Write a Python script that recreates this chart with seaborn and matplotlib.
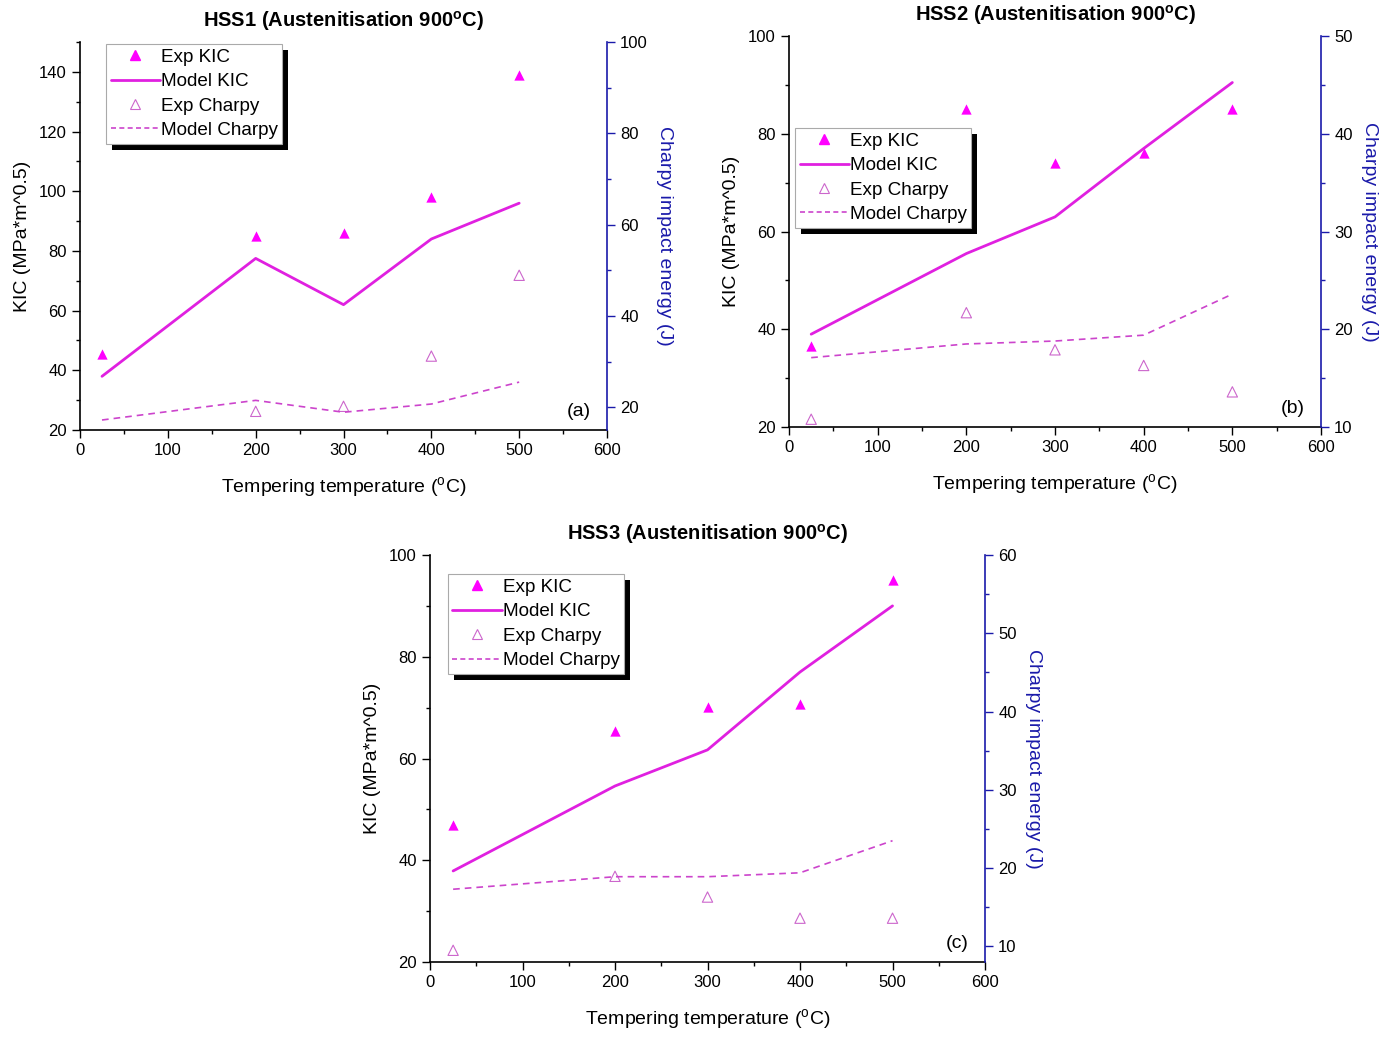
import matplotlib
matplotlib.use("Agg")
import matplotlib.pyplot as plt
import seaborn as sns
import pandas as pd
from matplotlib.lines import Line2D
from matplotlib.patches import Rectangle
from matplotlib.transforms import IdentityTransform
from matplotlib.ticker import MultipleLocator

sns.set_theme(style="white")
plt.rcParams['font.family'] = ['Liberation Sans', 'DejaVu Sans']
plt.rcParams.update({"text.color": "black", "axes.labelcolor": "black",
                     "xtick.color": "black", "ytick.color": "black"})

temps = [25, 200, 300, 400, 500]

# HSS1
hss1_exp_kic = [45.5, 85, 86, 98, 139]
hss1_model_kic = [38, 77.5, 62, 84, 96]
hss1_exp_charpy_t = [200, 300, 400, 500]
hss1_exp_charpy = [19.1, 20.2, 31.2, 48.9]
hss1_model_charpy = [17.2, 21.5, 18.9, 20.7, 25.5]

# HSS2
hss2_exp_kic = [36.5, 85, 74, 76, 85]
hss2_model_kic = [39, 55.5, 63, 77, 90.5]
hss2_exp_charpy_t = [25, 200, 300, 400, 500]
hss2_exp_charpy = [10.8, 21.7, 17.9, 16.3, 13.6]
hss2_model_charpy = [17.1, 18.5, 18.8, 19.4, 23.6]

# HSS3
hss3_exp_kic = [46.9, 65.4, 70.1, 70.7, 95.1]
hss3_model_kic = [37.9, 54.6, 61.7, 77, 90]
hss3_exp_charpy_t = [25, 200, 300, 400, 500]
hss3_exp_charpy = [9.5, 18.95, 16.3, 13.6, 13.6]
hss3_model_charpy = [17.3, 18.9, 18.9, 19.4, 23.5]

titles = ["HSS1 (Austenitisation 900$^\\mathregular{o}$C)",
          "HSS2 (Austenitisation 900$^\\mathregular{o}$C)",
          "HSS3 (Austenitisation 900$^\\mathregular{o}$C)"]
tags = ["(a)", "(b)", "(c)"]

C_EXP = "#ff00ff"
C_MOD = "#e020e0"
C_EXPC = "#cc66cc"
C_MODC = "#cc44cc"
C_AX2 = "#1a1aaa"

fig = plt.figure(figsize=(13.97, 10.37), dpi=100)

positions = [
    [0.0573, 0.5853, 0.3772, 0.3742],
    [0.5648, 0.5882, 0.3808, 0.3770],
    [0.3078, 0.0723, 0.3973, 0.3925],
]
ylims_left = [(20, 150), (20, 100), (20, 100)]
ylims_right = [(15, 100), (10, 50), (8, 60)]
left_major = [20, 20, 20]
right_major = [20, 10, 10]
legend_anchor = [(0.049, 0.995), (0.011, 0.765), (0.032, 0.953)]
title_pad = [11, 11, 11]

datasets = [
    (hss1_exp_kic, hss1_model_kic, hss1_exp_charpy_t, hss1_exp_charpy, hss1_model_charpy),
    (hss2_exp_kic, hss2_model_kic, hss2_exp_charpy_t, hss2_exp_charpy, hss2_model_charpy),
    (hss3_exp_kic, hss3_model_kic, hss3_exp_charpy_t, hss3_exp_charpy, hss3_model_charpy),
]

legends = []
for i, (ekic, mkic, ect, ec, mc) in enumerate(datasets):
    ax = fig.add_axes(positions[i])
    ax2 = ax.twinx()
    df_k = pd.DataFrame({"T": temps, "exp": ekic, "model": mkic})
    df_ce = pd.DataFrame({"T": ect, "exp": ec})
    df_cm = pd.DataFrame({"T": temps, "model": mc})

    sns.lineplot(data=df_k, x="T", y="model", ax=ax, color=C_MOD, linewidth=2.0)
    sns.scatterplot(data=df_k, x="T", y="exp", ax=ax, color=C_EXP, marker="^",
                    s=55, edgecolor=C_EXP, linewidth=0)
    sns.lineplot(data=df_cm, x="T", y="model", ax=ax2, color=C_MODC, linewidth=1.2,
                 linestyle=(0, (4, 3)))
    ax2.scatter(df_ce["T"], df_ce["exp"], marker="^", s=55, facecolors="none",
                edgecolors=C_EXPC, linewidths=0.8)

    ax.set_xlim(0, 600)
    ax.set_ylim(*ylims_left[i])
    ax2.set_ylim(*ylims_right[i])
    ax.xaxis.set_major_locator(MultipleLocator(100))
    ax.xaxis.set_minor_locator(MultipleLocator(50))
    ax.yaxis.set_major_locator(MultipleLocator(left_major[i]))
    ax.yaxis.set_minor_locator(MultipleLocator(left_major[i] / 2))
    ax2.yaxis.set_major_locator(MultipleLocator(right_major[i]))
    ax2.yaxis.set_minor_locator(MultipleLocator(right_major[i] / 2))

    for a in (ax, ax2):
        a.spines["top"].set_visible(False)
        a.grid(False)
    ax.spines["right"].set_visible(False)
    ax2.spines["left"].set_visible(False)
    ax2.spines["bottom"].set_visible(False)
    for s in ("left", "bottom"):
        ax.spines[s].set_color("black")
        ax.spines[s].set_linewidth(1.2)
    ax2.spines["right"].set_color(C_AX2)
    ax2.spines["right"].set_linewidth(1.2)

    ax.tick_params(axis="both", which="major", direction="out", length=6, width=1,
                   labelsize=12, colors="black", bottom=True, left=True)
    ax.tick_params(axis="both", which="minor", direction="out", length=3, width=1,
                   bottom=True, left=True)
    ax2.tick_params(axis="y", which="major", direction="out", length=6, width=1,
                    labelsize=12, color=C_AX2, labelcolor="black", right=True)
    ax2.tick_params(axis="y", which="minor", direction="out", length=3, width=1,
                    color=C_AX2, right=True)

    ax.set_xlabel("Tempering temperature ($^\\mathregular{o}$C)", fontsize=14, labelpad=12)
    ax.set_ylabel("KIC (MPa*m^0.5)", fontsize=14, labelpad=6)
    ax2.set_ylabel("Charpy impact energy (J)", fontsize=14, color=C_AX2,
                   rotation=-90, labelpad=18)
    ax.set_title(titles[i], fontsize=14.5, fontweight="bold", pad=title_pad[i])
    ax.text(0.97, 0.025, tags[i], transform=ax.transAxes, ha="right", va="bottom",
            fontsize=14)

    handles = [
        Line2D([], [], color=C_EXP, marker="^", linestyle="none", markersize=7),
        Line2D([], [], color=C_MOD, linewidth=2.0),
        Line2D([], [], color=C_EXPC, marker="^", markerfacecolor="none",
               linestyle="none", markersize=7, markeredgewidth=0.8),
        Line2D([], [], color=C_MODC, linewidth=1.2, linestyle=(0, (3, 2))),
    ]
    labels = ["Exp KIC", "Model KIC", "Exp Charpy", "Model Charpy"]
    leg = ax2.legend(handles, labels, loc="upper left", bbox_to_anchor=legend_anchor[i],
                     fontsize=13.6, frameon=True, fancybox=False, shadow=False,
                     framealpha=1.0, facecolor="white",
                     handlelength=2.6, handletextpad=0.05, borderpad=0.25,
                     labelspacing=0.38, borderaxespad=0.0)
    leg.get_frame().set_edgecolor("#aaaaaa")
    leg.get_frame().set_linewidth(0.8)
    leg.set_zorder(10)
    legends.append((ax2, leg))

fig.canvas.draw()
renderer = fig.canvas.get_renderer()
for ax2, leg in legends:
    bb = leg.get_window_extent(renderer)
    shadow = Rectangle((bb.x0 + 6, bb.y0 - 6), bb.width, bb.height,
                       transform=IdentityTransform(), facecolor="black",
                       edgecolor="none", zorder=9, clip_on=False)
    ax2.add_artist(shadow)

fig.savefig("out.png", dpi=100)
